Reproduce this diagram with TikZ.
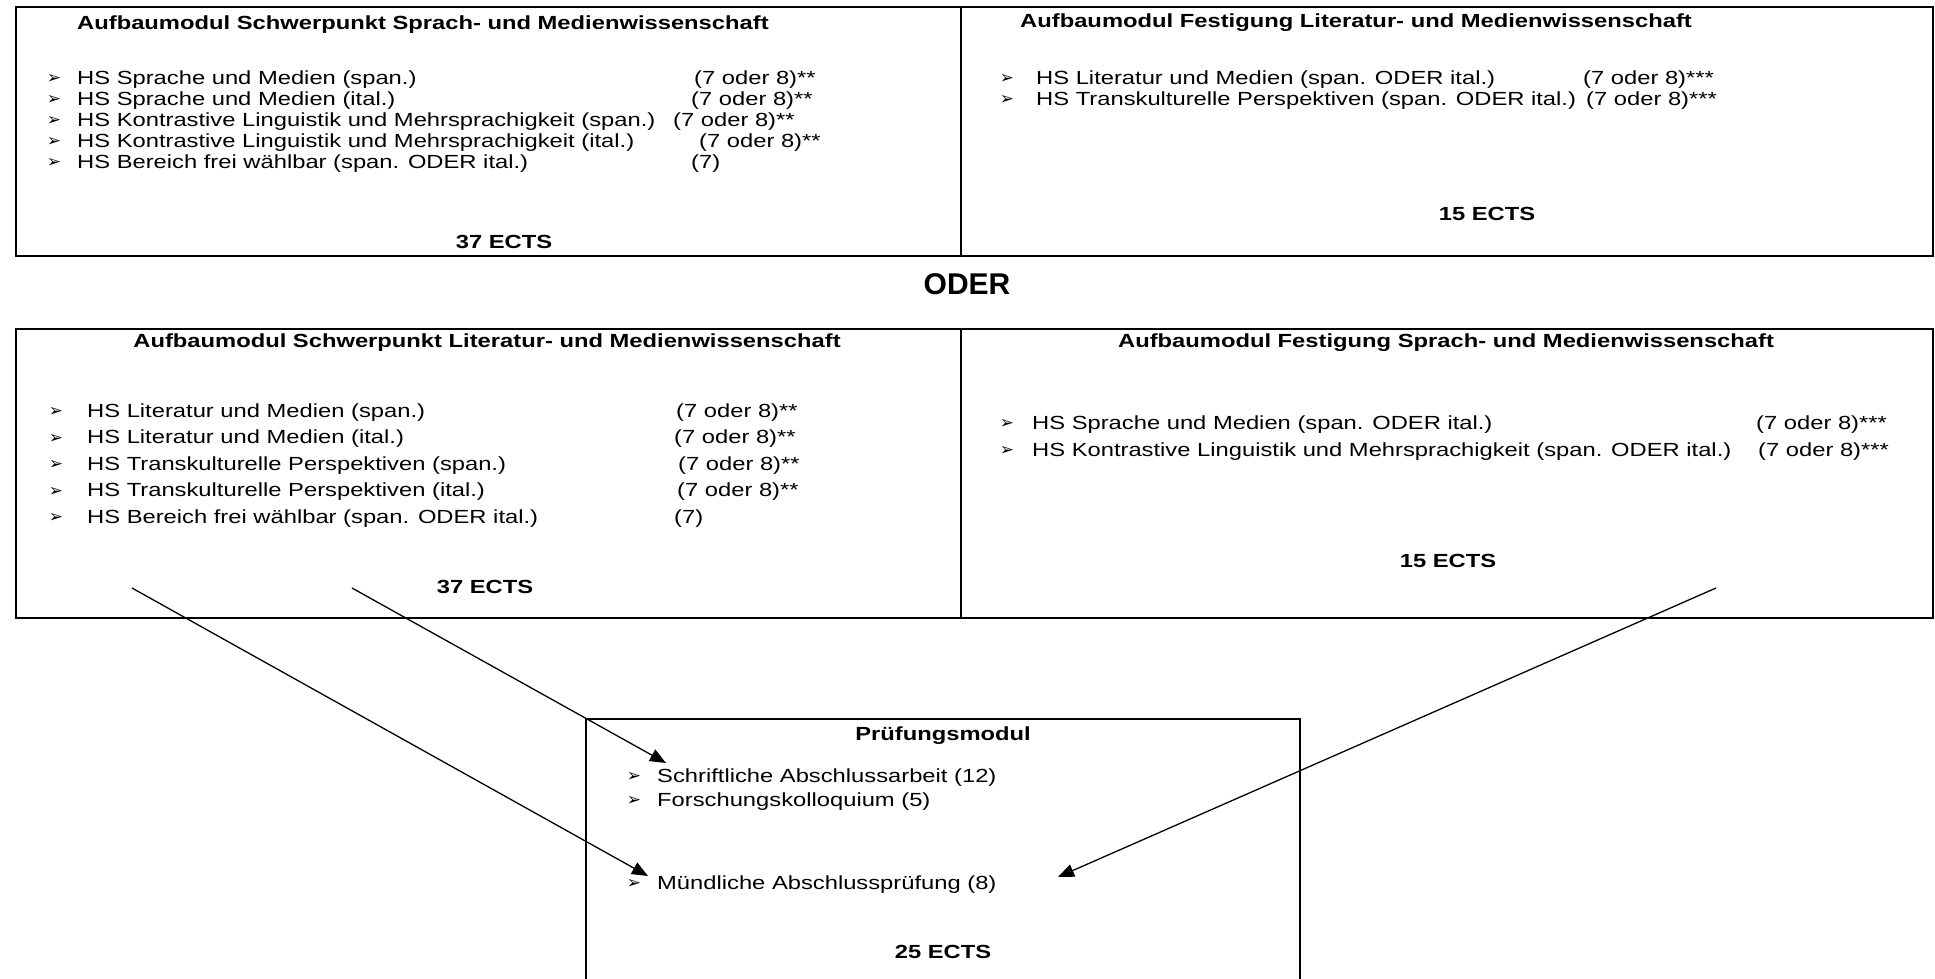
\documentclass[tikz,border=0pt]{standalone}
\usepackage{fontspec}
\setmainfont{Liberation Sans}[FakeStretch=1.25]
\newfontfamily\plainsans{Liberation Sans}
\newfontfamily\djv{DejaVu Sans}
\usetikzlibrary{arrows.meta}
\newcommand\myrow[7]{%
  \node[bul] (#1b) at (#2,#4) {\djv ➢};
  \node[item] (#1t) at (#3,#4) {#5};
  \node[item] (#1n) at (#6,#4) {#7};}
\begin{document}
\begin{tikzpicture}[x=1pt,y=-1pt,
  frame/.style={draw, line width=2pt, anchor=north west, inner sep=0pt},
  item/.style={anchor=west, inner sep=0pt, font=\fontsize{19}{22}\selectfont, text height=14pt, text depth=4pt},
  titl/.style={item, font=\fontsize{19}{22}\selectfont\bfseries},
  ects/.style={titl, anchor=center},
  bul/.style={anchor=center, inner sep=0pt, font=\fontsize{17}{19}\selectfont},
  conn/.style={line width=1.3pt, -{Triangle[length=16pt,width=13pt]}}]
\useasboundingbox (0,0) rectangle (1935,978);
\clip (0,0) rectangle (1935,978);
% frames
\node[frame, minimum width=945pt, minimum height=249pt] (b1) at (15,6) {};
\node[frame, minimum width=972pt, minimum height=249pt] (b2) at (960,6) {};
\node[frame, minimum width=945pt, minimum height=289pt] (b3) at (15,328) {};
\node[frame, minimum width=972pt, minimum height=289pt] (b4) at (960,328) {};
\node[frame, minimum width=714pt, minimum height=290pt] (b5) at (585,718) {};
% top left
\node[titl] (t1) at (77,24) {Aufbaumodul Schwerpunkt Sprach- und Medienwissenschaft};
\myrow{a1}{54}{77}{79}{HS Sprache und Medien (span.)}{694}{(7 oder 8)**}
\myrow{a2}{54}{77}{100}{HS Sprache und Medien (ital.)}{691}{(7 oder 8)**}
\myrow{a3}{54}{77}{121}{HS Kontrastive Linguistik und Mehrsprachigkeit (span.)}{673}{(7 oder 8)**}
\myrow{a4}{54}{77}{142}{HS Kontrastive Linguistik und Mehrsprachigkeit (ital.)}{699}{(7 oder 8)**}
\myrow{a5}{54}{77}{163}{HS Bereich frei wählbar (span. ODER ital.)}{691}{(7)}
\node[ects] (e1) at (504,243) {37 ECTS};
% top right
\node[titl] (t2) at (1020,22) {Aufbaumodul Festigung Literatur- und Medienwissenschaft};
\myrow{c1}{1007}{1036}{79}{HS Literatur und Medien (span. ODER ital.)}{1583}{(7 oder 8)***}
\myrow{c2}{1007}{1036}{100}{HS Transkulturelle Perspektiven (span. ODER ital.)}{1586}{(7 oder 8)***}
\node[ects] (e2) at (1487,215) {15 ECTS};
% ODER
\node[inner sep=0pt, font=\plainsans\fontsize{30}{34}\selectfont\bfseries] (oder) at (967,284) {ODER};
% bottom left
\node[titl, anchor=center] (t3) at (487,342) {Aufbaumodul Schwerpunkt Literatur- und Medienwissenschaft};
\myrow{d1}{56}{87}{412}{HS Literatur und Medien (span.)}{676}{(7 oder 8)**}
\myrow{d2}{56}{87}{438.5}{HS Literatur und Medien (ital.)}{674}{(7 oder 8)**}
\myrow{d3}{56}{87}{465}{HS Transkulturelle Perspektiven (span.)}{678}{(7 oder 8)**}
\myrow{d4}{56}{87}{491.5}{HS Transkulturelle Perspektiven (ital.)}{677}{(7 oder 8)**}
\myrow{d5}{56}{87}{518}{HS Bereich frei wählbar (span. ODER ital.)}{674}{(7)}
\node[ects] (e3) at (485,588) {37 ECTS};
% bottom right
\node[titl, anchor=center] (t4) at (1446,342) {Aufbaumodul Festigung Sprach- und Medienwissenschaft};
\myrow{f1}{1007}{1032}{424}{HS Sprache und Medien (span. ODER ital.)}{1756}{(7 oder 8)***}
\myrow{f2}{1007}{1032}{451}{HS Kontrastive Linguistik und Mehrsprachigkeit (span. ODER ital.)}{1758}{(7 oder 8)***}
\node[ects] (e4) at (1448,562) {15 ECTS};
% Pruefungsmodul
\node[titl, anchor=center] (t5) at (943,735) {Prüfungsmodul};
\node[bul] (p1b) at (634,777) {\djv ➢};
\node[item] (p1t) at (657,777) {Schriftliche Abschlussarbeit (12)};
\node[bul] (p2b) at (634,801) {\djv ➢};
\node[item] (p2t) at (657,801) {Forschungskolloquium (5)};
\node[bul] (p3b) at (634,884) {\djv ➢};
\node[item] (p3t) at (657,884) {Mündliche Abschlussprüfung (8)};
\node[ects] (e5) at (943,953) {25 ECTS};
% connectors
\coordinate (s1) at (132,588);
\coordinate (s2) at (352,588);
\coordinate (s3) at (1716,588);
\coordinate (m1) at (648,876);
\coordinate (m2) at (666,763);
\coordinate (m3) at (1058,877);
\draw[conn] (s1) -- (m1);
\draw[conn] (s2) -- (m2);
\draw[conn] (s3) -- (m3);
\end{tikzpicture}
\end{document}
